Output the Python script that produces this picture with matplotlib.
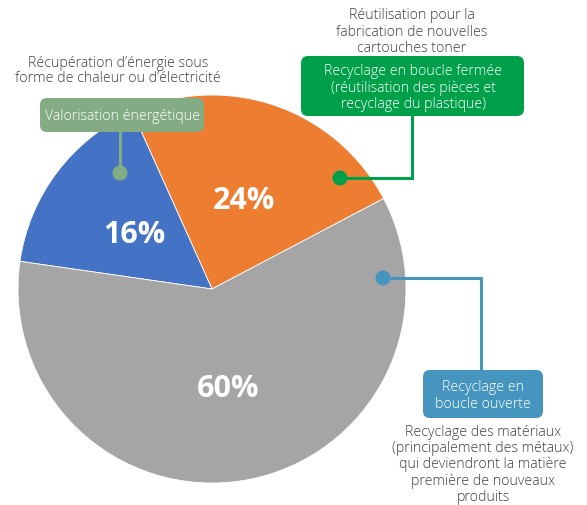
import matplotlib
matplotlib.use("Agg")
import matplotlib.pyplot as plt
from matplotlib.patches import FancyBboxPatch, Circle

# Slice shares (percent), in counter-clockwise drawing order
labels = ["Recyclage en boucle fermée", "Valorisation énergétique", "Recyclage en boucle ouverte"]
shares = [24, 16, 60]
slice_colors = ["#ED7D31", "#4472C4", "#A5A5A5"]

W, H = 587, 506
fig = plt.figure(figsize=(W / 100, H / 100), dpi=100)
ax = fig.add_axes([0, 0, 1, 1])

def Y(y):
    # pixel row (from top) -> data y (from bottom)
    return H - y

cx, cy, R = 212, Y(290), 194

wedges, texts, autotexts = ax.pie(
    shares, colors=slice_colors, startangle=27.8, counterclock=True,
    center=(cx, cy), radius=R, autopct="%d%%", pctdistance=0.5,
    wedgeprops=dict(linewidth=0.6, edgecolor="white"),
    textprops=dict(color="white", fontsize=22, fontweight="bold", family="Open Sans"),
)
for t in autotexts:
    x, y = t.get_position()
    t.set_position((x, y - 3))

ax.set_xlim(0, W)
ax.set_ylim(0, H)
ax.set_aspect("equal")
ax.axis("off")

txt_font = dict(family="Open Sans", fontsize=10.2, fontweight="light", color="#3F3F3F",
                ha="center", va="center", linespacing=1.1)
box_font = dict(family="Open Sans", fontsize=10.2, fontweight="light", color="white",
                ha="center", va="center", linespacing=1.1)

def box(x0, y0, x1, y1, color):
    p = FancyBboxPatch((x0, Y(y1)), x1 - x0, y1 - y0,
                       boxstyle="round,pad=0,rounding_size=7",
                       facecolor=color, edgecolor="none", zorder=4)
    ax.add_patch(p)

def dot(x, y, color, r=7.5):
    ax.add_patch(Circle((x, Y(y)), r, facecolor=color, edgecolor="none", zorder=5))

# Energy recovery (sage)
sage = "#84AC84"
ax.text(118, Y(71), "Récupération d’énergie sous\nforme de chaleur ou d’électricité",
        **{**txt_font, "linespacing": 1.0})
box(40, 99, 204, 133, sage)
ax.text(122, Y(116), labels[1], zorder=6, **box_font)
ax.plot([120, 120], [Y(133), Y(174)], color=sage, lw=2.2, zorder=4)
dot(120, 174, sage)

# Closed-loop recycling (green)
green = "#00A04B"
ax.text(412, Y(32), "Réutilisation pour la\nfabrication de nouvelles\ncartouches toner", **txt_font)
box(301, 57, 524, 117, green)
ax.text(413, Y(88), "Recyclage en boucle fermée\n(réutilisation des pièces et\nrecyclage du plastique)",
        zorder=6, **box_font)
ax.plot([412, 412, 340], [Y(117), Y(179), Y(179)], color=green, lw=2.2, zorder=4,
        solid_joinstyle="miter")
dot(340, 179, green)

# Open-loop recycling (teal)
teal = "#4595BE"
ax.plot([383, 481, 481], [Y(279), Y(279), Y(371)], color=teal, lw=2.2, zorder=4,
        solid_joinstyle="miter")
dot(383, 279, teal)
box(423, 371, 543, 419, teal)
ax.text(483, Y(396), "Recyclage en\nboucle ouverte", zorder=6, **box_font)
ax.text(483, Y(465), "Recyclage des matériaux\n(principalement des métaux)\nqui deviendront la matière\n"
        "première de nouveaux\nproduits", **txt_font)

fig.savefig("out.png", dpi=100)
